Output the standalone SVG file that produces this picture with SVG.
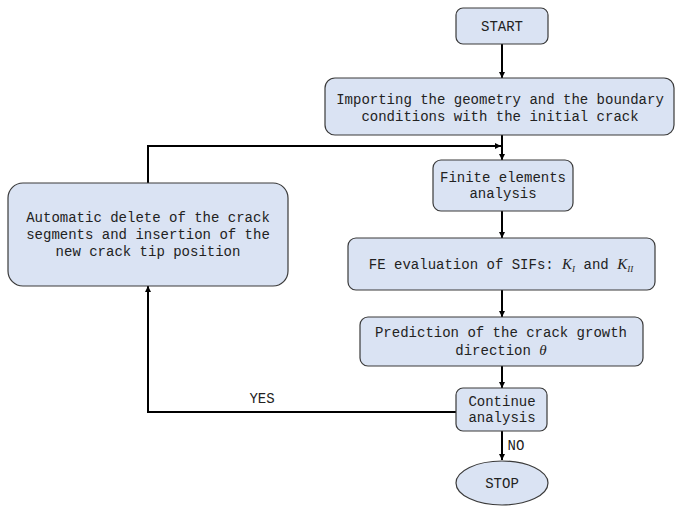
<svg xmlns="http://www.w3.org/2000/svg" width="675" height="506" viewBox="0 0 675 506">
<style>
.box{fill:#dae3f3;stroke:#3a3a3a;stroke-width:1.2}
.t{font-family:"Liberation Mono","Courier New",monospace;font-size:14px;fill:#222;text-anchor:middle}
.m{font-family:"Liberation Serif","Times New Roman",serif;font-style:italic}
.c{fill:none;stroke:#000;stroke-width:2}
</style>
<defs>
<marker id="ah" viewBox="0 0 10 10" refX="10" refY="5" markerWidth="6" markerHeight="6" markerUnits="userSpaceOnUse" orient="auto">
<path d="M0,0 L10,5 L0,10 Z" fill="#000"/>
</marker>
</defs>
<rect width="675" height="506" fill="#fff"/>
<g id="connectors">
<line class="c" x1="502" y1="44" x2="502" y2="78" marker-end="url(#ah)"/>
<line class="c" x1="502" y1="135" x2="502" y2="160" marker-end="url(#ah)"/>
<polyline class="c" points="148,183 148,146 501,146" marker-end="url(#ah)"/>
<line class="c" x1="502" y1="211" x2="502" y2="238" marker-end="url(#ah)"/>
<line class="c" x1="502" y1="290" x2="502" y2="317" marker-end="url(#ah)"/>
<line class="c" x1="502" y1="366" x2="502" y2="388" marker-end="url(#ah)"/>
<line class="c" x1="502" y1="431" x2="502" y2="460" marker-end="url(#ah)"/>
<polyline class="c" points="456,412 148,412 148,286" marker-end="url(#ah)"/>
<text class="t" x="262" y="403">YES</text>
<text class="t" x="516" y="450">NO</text>
</g>
<g id="start">
<rect class="box" x="456" y="8" width="92" height="36" rx="7"/>
<text class="t" x="502" y="31">START</text>
</g>
<g id="import">
<rect class="box" x="325" y="78" width="349" height="57" rx="10"/>
<text class="t" x="500" y="104">Importing the geometry and the boundary</text>
<text class="t" x="500" y="121">conditions with the initial crack</text>
</g>
<g id="automatic">
<rect class="box" x="8" y="183" width="280" height="103" rx="15"/>
<text class="t" x="148" y="222">Automatic delete of the crack</text>
<text class="t" x="148" y="239">segments and insertion of the</text>
<text class="t" x="148" y="256">new crack tip position</text>
</g>
<g id="finite">
<rect class="box" x="433" y="160" width="140" height="51" rx="8"/>
<text class="t" x="503" y="182">Finite elements</text>
<text class="t" x="503" y="198">analysis</text>
</g>
<g id="fe">
<rect class="box" x="348" y="238" width="307" height="52" rx="8"/>
<text class="t" x="501" y="269">FE evaluation of SIFs: <tspan class="m" font-size="15">K</tspan><tspan class="m" font-size="9" dy="3">I</tspan><tspan dy="-3"> and </tspan><tspan class="m" font-size="15">K</tspan><tspan class="m" font-size="9" dy="3">II</tspan></text>
</g>
<g id="prediction">
<rect class="box" x="360" y="317" width="283" height="49" rx="8"/>
<text class="t" x="501" y="337">Prediction of the crack growth</text>
<text class="t" x="501" y="355">direction <tspan class="m" font-size="15">θ</tspan></text>
</g>
<g id="continue">
<rect class="box" x="456" y="388" width="91" height="43" rx="7"/>
<text class="t" x="502" y="406">Continue</text>
<text class="t" x="502" y="422">analysis</text>
</g>
<g id="stop">
<ellipse class="box" cx="502" cy="483" rx="46" ry="22"/>
<text class="t" x="502" y="488">STOP</text>
</g>
</svg>
